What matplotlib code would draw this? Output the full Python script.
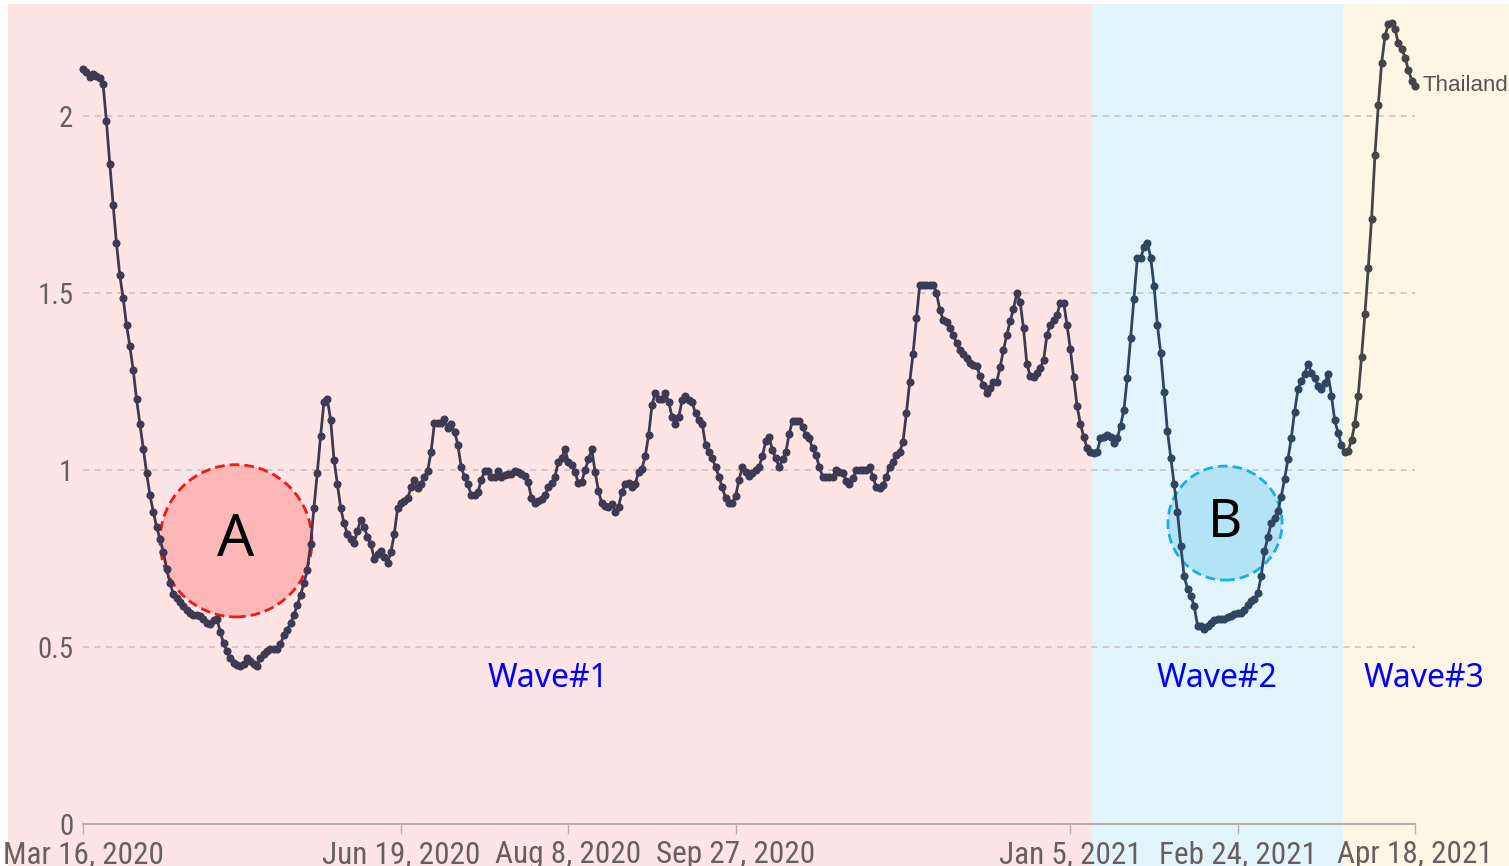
import matplotlib
matplotlib.use('Agg')
import matplotlib.pyplot as plt
import matplotlib.dates as mdates
from matplotlib import font_manager as fm
from matplotlib.font_manager import FontProperties
from matplotlib.textpath import TextPath
from matplotlib.patches import Ellipse, Rectangle
import numpy as np
import pandas as pd

# reproduction number for Thailand, one value per day from Mar 16, 2020
start_date = '2020-03-16'
wave1_r = [
    2.133, 2.124, 2.11, 2.118, 2.112, 2.107, 2.09, 1.985, 1.865, 1.75,
    1.64, 1.55, 1.485, 1.41, 1.35, 1.282, 1.2, 1.13, 1.06, 0.992,
    0.929, 0.882, 0.839, 0.805, 0.769, 0.72, 0.68, 0.65, 0.638, 0.628,
    0.616, 0.605, 0.596, 0.59, 0.59, 0.588, 0.579, 0.568, 0.565, 0.575,
    0.58, 0.543, 0.51, 0.49, 0.469, 0.456, 0.449, 0.446, 0.452, 0.47,
    0.461, 0.452, 0.446, 0.469, 0.48, 0.49, 0.493, 0.493, 0.495, 0.508,
    0.534, 0.548, 0.567, 0.59, 0.619, 0.647, 0.68, 0.717, 0.79, 0.893,
    0.992, 1.097, 1.193, 1.2, 1.141, 1.028, 0.96, 0.893, 0.849, 0.819,
    0.804, 0.794, 0.829, 0.86, 0.84, 0.81, 0.791, 0.75, 0.763, 0.772,
    0.755, 0.738, 0.769, 0.819, 0.892, 0.907, 0.913, 0.92, 0.951, 0.972,
    0.948, 0.96, 0.981, 0.998, 1.052, 1.132, 1.132, 1.132, 1.143, 1.119,
    1.129, 1.108, 1.071, 1.008, 0.981, 0.96, 0.929, 0.929, 0.938, 0.972,
    0.998, 0.998, 0.981, 0.981, 0.998, 0.981, 0.985, 0.99, 0.99, 0.998,
    0.995, 0.99, 0.982, 0.965, 0.92, 0.907, 0.913, 0.918, 0.929, 0.951,
    0.962, 0.981, 1.023, 1.033, 1.059, 1.023, 1.014, 0.995, 0.962, 0.967,
    1.0, 1.03, 1.059, 0.995, 0.941, 0.907, 0.898, 0.896, 0.905, 0.882,
    0.896, 0.938, 0.96, 0.962, 0.952, 0.96, 0.995, 1.004, 1.04, 1.099,
    1.184, 1.218, 1.2, 1.2, 1.218, 1.192, 1.15, 1.13, 1.15, 1.198,
    1.209, 1.198, 1.192, 1.16, 1.141, 1.131, 1.071, 1.051, 1.033, 1.009,
    0.981, 0.951, 0.92, 0.907, 0.907, 0.927, 0.972, 1.009, 0.995, 0.983,
    0.992, 1.0, 1.009, 1.04, 1.082, 1.092, 1.056, 1.033, 1.009, 1.03,
    1.051, 1.103, 1.139, 1.139, 1.139, 1.122, 1.099, 1.089, 1.061, 1.042,
    1.009, 0.981, 0.981, 0.981, 0.981, 1.0, 0.995, 0.992, 0.969, 0.96,
    0.976, 1.0, 1.0, 1.0, 1.0, 1.009, 0.981, 0.951, 0.948, 0.958,
    0.981, 1.009, 1.023, 1.042, 1.051, 1.08, 1.16, 1.249, 1.329, 1.428,
    1.523, 1.523, 1.523, 1.523, 1.523, 1.501, 1.452, 1.424, 1.418, 1.4,
    1.38, 1.36, 1.339, 1.329, 1.315, 1.301, 1.297, 1.295, 1.265, 1.24,
    1.218, 1.231, 1.249, 1.249, 1.29, 1.339, 1.381, 1.42, 1.455, 1.499,
    1.475, 1.40, 1.30, 1.265, 1.262, 1.275, 1.288, 1.31, 1.381, 1.41,
    1.425, 1.438, 1.473, 1.473, 1.41, 1.341, 1.262, 1.181, 1.13, 1.094,
    1.061, 1.05,
]
wave2_r = [
    1.049, 1.05, 1.09, 1.094, 1.099, 1.092, 1.075, 1.089,
    1.125, 1.17, 1.26, 1.372, 1.483, 1.598, 1.598, 1.63, 1.642, 1.6,
    1.52, 1.41, 1.33, 1.22, 1.11, 1.035, 0.96, 0.88, 0.785, 0.70,
    0.665, 0.645, 0.615, 0.56, 0.559, 0.552, 0.56, 0.567, 0.575, 0.58,
    0.578, 0.58, 0.585, 0.587, 0.592, 0.595, 0.597, 0.605, 0.62, 0.629,
    0.635, 0.652, 0.70, 0.77, 0.81, 0.85, 0.865, 0.885, 0.925, 0.975,
    1.03, 1.09, 1.165, 1.228, 1.252, 1.272, 1.299, 1.275, 1.26, 1.238,
    1.23, 1.245, 1.27, 1.21, 1.14, 1.105, 1.07,
]
wave3_r = [
    1.05, 1.055, 1.085,
    1.13, 1.21, 1.32, 1.44, 1.57, 1.71, 1.89, 2.03, 2.15, 2.225,
    2.26, 2.264, 2.245, 2.205, 2.19, 2.165, 2.13, 2.10, 2.085,
]

tick_dates = ['2020-03-16', '2020-06-19', '2020-08-08', '2020-09-27',
              '2021-01-05', '2021-02-24', '2021-04-18']
tick_labels = ['Mar 16, 2020', 'Jun 19, 2020', 'Aug 8, 2020', 'Sep 27, 2020',
               'Jan 5, 2021', 'Feb 24, 2021', 'Apr 18, 2021']
y_ticks = [0, 0.5, 1, 1.5, 2]
y_labels = ['0', '0.5', '1', '1.5', '2']

wave2_start = '2021-01-11 12:00'
wave3_start = '2021-03-27 12:00'

r = np.array(wave1_r + wave2_r + wave3_r)
dates = pd.date_range(start_date, periods=len(r), freq='D')
x = mdates.date2num(dates)
x0 = x[0]


def narrow_font():
    # look for an Arial-Narrow-like face, else plain Liberation Sans
    prefs = ['Liberation Sans Narrow', 'Arial Narrow', 'Roboto Condensed',
             'Noto Sans', 'Open Sans', 'DejaVu Sans', 'Lato', 'Inter']
    cands = []
    for f in fm.fontManager.ttflist:
        st = str(f.stretch)
        if f.style != 'normal' or f.weight not in (400, 'normal', 'regular'):
            continue
        if st in ('condensed', 'semi-condensed', '500', '600') or \
                'Narrow' in f.name or 'Condensed' in f.name:
            cands.append(f)
    for p in prefs:
        for f in cands:
            if f.name == p and str(f.stretch) in ('condensed', '500'):
                return FontProperties(fname=f.fname)
        for f in cands:
            if f.name == p:
                return FontProperties(fname=f.fname)
    if cands:
        return FontProperties(fname=cands[0].fname)
    return FontProperties(family='Liberation Sans')


tick_fp = narrow_font()
ink = TextPath((0, 0), 'Mar 16, 2020', size=100, prop=tick_fp).get_extents().width
tick_size = min(24.0, 157 * 0.72 / (ink / 100))
label_font = ['Noto Sans', 'DejaVu Sans']

fig = plt.figure(figsize=(15.09, 8.66), dpi=100)
fig.patch.set_facecolor('white')
ax = fig.add_axes([8 / 1509, 0, 1501 / 1509, 862 / 866])

px_day = 3.347
left = x0 - 75 / px_day
right = x0 + (1509 - 83) / px_day
ax.set_xlim(left, right)
ax.set_ylim(-42 / 354, 820 / 354)

# wave backgrounds
w2 = mdates.date2num(pd.Timestamp(wave2_start))
w3 = mdates.date2num(pd.Timestamp(wave3_start))
ax.axvspan(left, w2, color='#fde5e5', lw=0, zorder=0)
ax.axvspan(w2, w3, color='#e3f5fc', lw=0, zorder=0)
ax.axvspan(w3, right, color='#fdf6e5', lw=0, zorder=0)

# grid
ax.hlines(y_ticks[1:], x0, x[-1], colors='#c8bfbf', linestyles=(0, (4, 3.5)),
          lw=1.1, zorder=1)

# circles A and B
ca = mdates.date2num(pd.Timestamp('2020-04-30 17:00'))
cb = mdates.date2num(pd.Timestamp('2021-02-20 05:00'))
ax.add_patch(Ellipse((ca, 0.80), 45.4, 0.43, facecolor='#fcb7b6',
                     edgecolor='#f01818', ls=(0, (3.5, 1.8)), lw=2, zorder=2))
ax.add_patch(Ellipse((cb, 0.85), 34.1, 0.322, facecolor='#b5e3f6',
                     edgecolor='#1aaee6', ls=(0, (3.5, 1.8)), lw=2, zorder=2))
ax.text(ca, 0.80, 'A', fontsize=42, ha='center', va='center',
        family=label_font, color='black', zorder=3)
ax.text(cb, 0.85, 'B', fontsize=38, ha='center', va='center',
        family=label_font, color='black', zorder=3)

# line, tinted per wave region
regions = [(left, w2, '#3e3a52'), (w2, w3, '#2f4660'), (w3, right, '#454545')]
for a, b, col in regions:
    ln, = ax.plot(x, r, color=col, lw=2.0, marker='o', ms=4.8, zorder=4)
    ln.set_clip_path(Rectangle((a, -1), b - a, 5, transform=ax.transData))

ax.annotate('Thailand', (x[-1], r[-1]), xytext=(5, 0), textcoords='offset points',
            va='center', ha='left', fontsize=16, color='#555555',
            family=['Liberation Sans', 'DejaVu Sans'])

# wave labels
waves = [('2020-08-01 22:00', 'Wave#1'), ('2021-02-17 19:00', 'Wave#2'),
         ('2021-04-20 17:00', 'Wave#3')]
for d, t in waves:
    ax.text(mdates.date2num(pd.Timestamp(d)), 0.412, t, fontsize=23,
            color='#0000ff', ha='center', va='center', family=label_font)

# axes
for s in ['top', 'right']:
    ax.spines[s].set_visible(False)
ax.spines['left'].set_position(('data', x0))
ax.spines['left'].set_color('none')
ax.spines['bottom'].set_position(('data', 0))
ax.spines['bottom'].set_bounds(x0, x[-1])
ax.spines['bottom'].set_color('#b8b0b0')
ax.spines['bottom'].set_linewidth(1.5)

ax.set_xticks(mdates.date2num(pd.to_datetime(tick_dates)))
ax.set_xticklabels(tick_labels, fontproperties=tick_fp)
ax.tick_params(axis='x', length=7, width=1, color='#b8b0b0', pad=4.5,
               labelcolor='#666060')
for t in ax.get_xticklabels():
    t.set_fontsize(tick_size)
ax.set_yticks(y_ticks)
ax.set_yticklabels(y_labels, fontproperties=tick_fp)
ax.tick_params(axis='y', length=0, pad=7, labelcolor='#666060')
for t in ax.get_yticklabels():
    t.set_fontsize(tick_size * 0.92)
ax.set_facecolor('none')

fig.savefig('out.png', dpi=100, facecolor='white')
